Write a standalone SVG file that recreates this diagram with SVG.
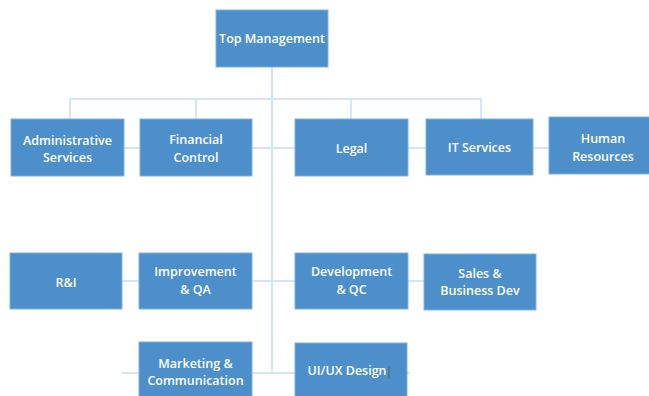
<svg xmlns="http://www.w3.org/2000/svg" width="649" height="396" viewBox="0 0 649 396">
  <style>
    .box { fill: #4d8fca; stroke: #80b2e0; stroke-width: 1; }
    .lbl { fill: #ffffff; font-family: "Open Sans", "Noto Sans", "Liberation Sans", sans-serif; font-weight: 600; font-size: 12.5px; text-anchor: middle; dominant-baseline: central; }
    .wire { fill: none; stroke: #d4e6f6; stroke-width: 2; }
  </style>
  <rect width="649" height="396" fill="#ffffff"/>

  <g id="connectors">
    <!-- trunk from the top box -->
    <path class="wire" d="M272 67 V373"/>
    <!-- upper bus with drops -->
    <path class="wire" d="M70 119 V99 H481 V119"/>
    <path class="wire" d="M196 99 V119"/>
    <path class="wire" d="M351 99 V119"/>
    <!-- first row link -->
    <path class="wire" d="M124 148 H549"/>
    <!-- second row link -->
    <path class="wire" d="M122 281 H424"/>
    <!-- third row link -->
    <path class="wire" d="M122 373 H410"/>
  </g>

  <g id="top-management">
    <rect class="box" x="216" y="10" width="112" height="57"/>
    <text class="lbl" x="272" y="38">Top Management</text>
  </g>

  <g id="administrative-services">
    <rect class="box" x="11" y="119" width="113" height="57"/>
    <text class="lbl" x="67.5" y="140">Administrative</text>
    <text class="lbl" x="67.5" y="157">Services</text>
  </g>

  <g id="financial-control">
    <rect class="box" x="140" y="119" width="112" height="57"/>
    <text class="lbl" x="196" y="139">Financial</text>
    <text class="lbl" x="196" y="157">Control</text>
  </g>

  <g id="legal">
    <rect class="box" x="295" y="119" width="113" height="57"/>
    <text class="lbl" x="351.5" y="148">Legal</text>
  </g>

  <g id="it-services">
    <rect class="box" x="426" y="119" width="107" height="56"/>
    <text class="lbl" x="479.5" y="147">IT Services</text>
  </g>

  <g id="human-resources">
    <rect class="box" x="549" y="117" width="101" height="57"/>
    <text class="lbl" x="603" y="138">Human</text>
    <text class="lbl" x="603" y="156">Resources</text>
  </g>

  <g id="r-and-i">
    <rect class="box" x="10" y="253" width="112" height="56"/>
    <text class="lbl" x="66" y="282">R&amp;I</text>
  </g>

  <g id="improvement-qa">
    <rect class="box" x="139" y="253" width="113" height="56"/>
    <text class="lbl" x="195.5" y="271">Improvement</text>
    <text class="lbl" x="195.5" y="289">&amp; QA</text>
  </g>

  <g id="development-qc">
    <rect class="box" x="295" y="253" width="113" height="56"/>
    <text class="lbl" x="351.5" y="271">Development</text>
    <text class="lbl" x="351.5" y="289">&amp; QC</text>
  </g>

  <g id="sales-business-dev">
    <rect class="box" x="424" y="254" width="112" height="56"/>
    <text class="lbl" x="480" y="273">Sales &amp;</text>
    <text class="lbl" x="480" y="290">Business Dev</text>
  </g>

  <g id="marketing-communication">
    <rect class="box" x="139" y="342" width="113" height="56"/>
    <text class="lbl" x="195.5" y="363">Marketing &amp;</text>
    <text class="lbl" x="195.5" y="380">Communication</text>
  </g>

  <g id="ui-ux-design">
    <rect class="box" x="295" y="343" width="112" height="56"/>
    <text class="lbl" x="347" y="370">UI/UX Design</text>
    <!-- caret after the label -->
    <line x1="389" y1="366" x2="389" y2="379" stroke="#5a6470" stroke-width="1"/>
  </g>
</svg>
